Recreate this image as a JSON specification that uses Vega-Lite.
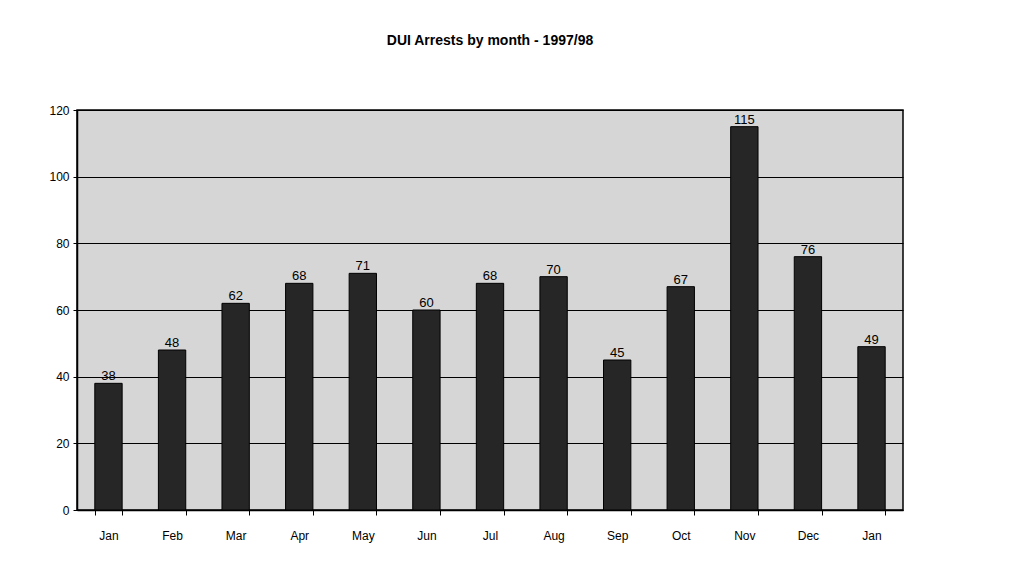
{
  "$schema": "https://vega.github.io/schema/vega-lite/v6.json",
  "width": 826,
  "height": 400,
  "autosize": {"type": "none"},
  "padding": {"left": 77, "top": 110, "right": 113, "bottom": 68},
  "background": "white",
  "title": {
    "text": "DUI Arrests by month - 1997/98",
    "font": "Liberation Sans",
    "fontSize": 14,
    "fontWeight": "bold",
    "color": "black",
    "anchor": "middle",
    "offset": 56
  },
  "data": {
    "values": [
      {"month": "Jan", "arrests": 38},
      {"month": "Feb", "arrests": 48},
      {"month": "Mar", "arrests": 62},
      {"month": "Apr", "arrests": 68},
      {"month": "May", "arrests": 71},
      {"month": "Jun", "arrests": 60},
      {"month": "Jul", "arrests": 68},
      {"month": "Aug", "arrests": 70},
      {"month": "Sep", "arrests": 45},
      {"month": "Oct", "arrests": 67},
      {"month": "Nov", "arrests": 115},
      {"month": "Dec", "arrests": 76},
      {"month": "Jan ", "arrests": 49}
    ]
  },
  "encoding": {
    "x": {
      "field": "month",
      "type": "nominal",
      "sort": null,
      "scale": {"paddingInner": 0.57, "paddingOuter": 0.28},
      "axis": {
        "title": null,
        "labelAngle": 0,
        "labelFont": "Liberation Sans",
        "labelFontSize": 12,
        "labelColor": "black",
        "labelPadding": 15,
        "tickBand": "extent",
        "tickSize": 5,
        "tickColor": "black",
        "domainColor": "black",
        "domainWidth": 1.5
      }
    },
    "y": {
      "field": "arrests",
      "type": "quantitative",
      "scale": {"domain": [0, 120]},
      "axis": {
        "title": null,
        "values": [0, 20, 40, 60, 80, 100, 120],
        "grid": true,
        "gridColor": "black",
        "gridOpacity": 1,
        "gridWidth": 1,
        "labelFont": "Liberation Sans",
        "labelFontSize": 12,
        "labelColor": "black",
        "labelPadding": 4,
        "tickSize": 4,
        "tickColor": "black",
        "domainColor": "black",
        "domainWidth": 1.5
      }
    }
  },
  "layer": [
    {
      "mark": {"type": "bar", "color": "#262626", "stroke": "black", "strokeWidth": 1}
    },
    {
      "mark": {"type": "text", "dy": -7, "font": "Liberation Sans", "fontSize": 13, "color": "black"},
      "encoding": {"text": {"field": "arrests", "type": "quantitative"}}
    }
  ],
  "config": {
    "view": {"fill": "#d6d6d6", "stroke": "black", "strokeWidth": 1.5}
  }
}
